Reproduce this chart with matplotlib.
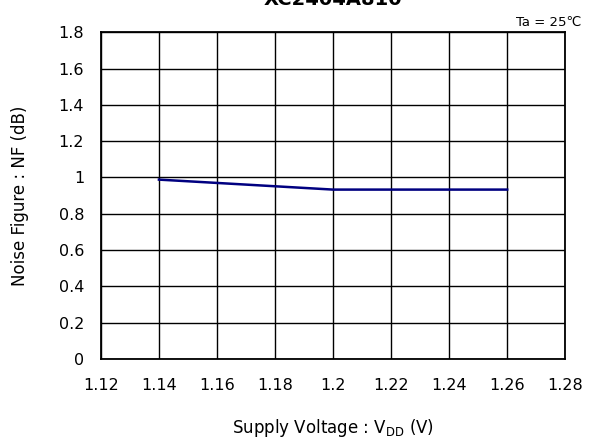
import matplotlib
matplotlib.use('Agg')
import matplotlib.pyplot as plt

# supply voltage vs noise figure
vdd = [1.14, 1.20, 1.26]
nf = [0.988, 0.933, 0.933]

xticks = [1.12, 1.14, 1.16, 1.18, 1.2, 1.22, 1.24, 1.26, 1.28]
xticklabels = ['1.12', '1.14', '1.16', '1.18', '1.2', '1.22', '1.24', '1.26', '1.28']
yticks = [0, 0.2, 0.4, 0.6, 0.8, 1.0, 1.2, 1.4, 1.6, 1.8]
yticklabels = ['0', '0.2', '0.4', '0.6', '0.8', '1', '1.2', '1.4', '1.6', '1.8']

plt.rcParams['font.family'] = ['DejaVu Sans']

fig = plt.figure(figsize=(5.9, 4.41), dpi=100)
ax = fig.add_axes([0.171, 0.186, 0.787, 0.741])

ax.plot(vdd, nf, color='#000080', linewidth=1.8)

ax.set_xlim(1.12, 1.28)
ax.set_ylim(0, 1.8)
ax.set_xticks(xticks)
ax.set_xticklabels(xticklabels)
ax.set_yticks(yticks)
ax.set_yticklabels(yticklabels)
ax.tick_params(axis='x', length=0, labelsize=11.5, pad=14)
ax.tick_params(axis='y', length=0, labelsize=11.5, pad=12)
ax.grid(True, color='black', linewidth=1)
for s in ax.spines.values():
    s.set_linewidth(1.3)

ax.set_xlabel('Supply Voltage : V$_{\\mathregular{DD}}$ (V)', fontsize=12, labelpad=17)
ax.set_ylabel('Noise Figure : NF (dB)', fontsize=12, labelpad=21)

fig.text(0.565, 0.989, 'XC2404A810', ha='center', va='baseline',
         fontsize=14, fontweight='bold')
fig.text(0.985, 0.942, 'Ta = 25\u2103', ha='right', va='baseline', fontsize=9.5,
         family=['DejaVu Sans', 'Noto Sans CJK JP'])

fig.savefig('out.png', dpi=100)
